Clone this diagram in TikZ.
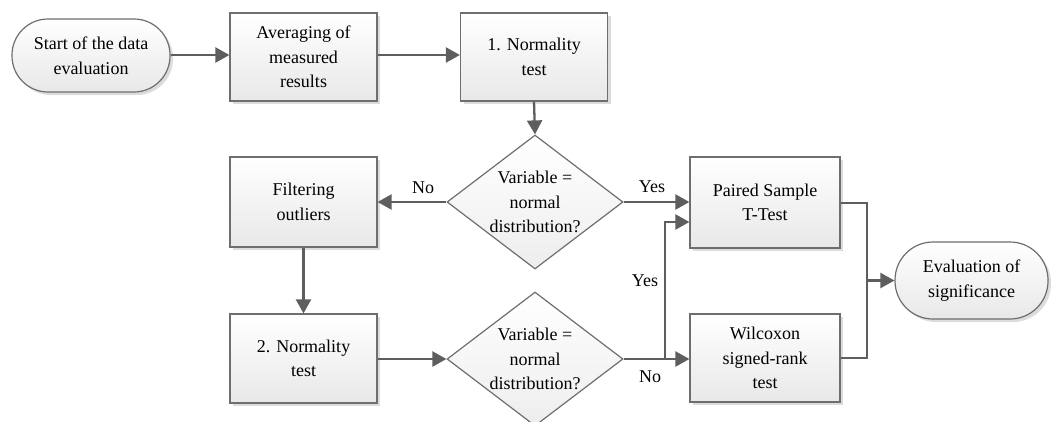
\documentclass[tikz,border=0pt]{standalone}
\usepackage{fontspec}
\setmainfont{Liberation Serif}
\usetikzlibrary{shapes.geometric,arrows.meta,shadows}
\definecolor{linec}{HTML}{5E5E5E}
\definecolor{boxline}{HTML}{6E6E6E}
\newcommand{\fs}{\fontsize{18}{24.5}\selectfont}
\begin{document}
\begin{tikzpicture}[x=1pt,y=-1pt,
  shad/.style={drop shadow={shadow xshift=3pt,shadow yshift=-3pt,fill=black!30,opacity=.45}},
  box/.style={draw=boxline,line width=1.2pt,top color=white,bottom color=black!9,
    minimum width=147pt,minimum height=88pt,inner sep=2pt,align=center,font=\fs,shad},
  term/.style={box,rounded corners=36pt,minimum width=158pt,minimum height=73pt},
  dia/.style={draw=boxline,line width=1.2pt,top color=white,bottom color=black!7,
    shape=diamond,minimum width=176pt,minimum height=134pt,inner sep=0pt},
  txt/.style={align=center,font=\fs,inner sep=0pt},
  lab/.style={font=\fs,inner sep=0pt},
  conn/.style={draw=linec,line width=2.3pt},
  arr/.style={conn,-{Triangle[length=14pt,width=15pt]}}
]
\useasboundingbox (0,0) rectangle (1051,421);

\node[term] (start) at (91,55.5) {Start of the data\\evaluation};
\node[box] (avg) at (303.5,57) {Averaging of\\measured\\results};
\node[box] (n1) at (534,57) {1. Normality\\test};
\node[dia] (d1) at (535,202) {};
\node[txt] (d1t) at (d1) {Variable =\\normal\\distribution?};
\node[box,minimum height=90pt] (filt) at (303.5,202) {Filtering\\outliers};
\node[box,minimum height=89pt] (n2) at (303.5,358.5) {2. Normality\\test};
\node[dia] (d2) at (535,359) {};
\node[txt] (d2t) at (d2) {Variable =\\normal\\distribution?};
\node[box,minimum width=150pt,minimum height=91pt] (paired) at (765,202.5) {Paired Sample\\T-Test};
\node[box,minimum width=150pt,minimum height=88pt] (wil) at (765,358) {Wilcoxon\\signed-rank\\test};
\node[term,minimum width=153pt,minimum height=77pt,rounded corners=38pt] (eval) at (971.5,280.5) {Evaluation of\\significance};

\coordinate (j) at (665,359);
\coordinate (jt) at (665,222);
\coordinate (r1) at (867,203);
\coordinate (r2) at (867,358);
\coordinate (rm) at (867,280.5);

\draw[arr] (start.east |- 0,55) -- (avg.west |- 0,55);
\draw[arr] (avg.east |- 0,55) -- (n1.west |- 0,55);
\draw[arr] (n1.south) -- (d1.north);
\draw[arr] (d1.west) -- (filt.east |- d1.west);
\draw[arr] (d1.east) -- (paired.west |- d1.east);
\draw[arr] (filt.south) -- (n2.north);
\draw[arr] (n2.east |- d2.west) -- (d2.west);
\draw[arr] (d2.east) -- (wil.west |- d2.east);
\draw[arr] (j) -- (jt) -- (paired.west |- jt);
\draw[conn] (paired.east |- r1) -- (r1) -- (r2) -- (wil.east |- r2);
\draw[arr] (rm) -- (eval.west);

\node[lab] (no1) at (423,188) {No};
\node[lab] (yes1) at (652,187) {Yes};
\node[lab] (yes2) at (645,281) {Yes};
\node[lab] (no2) at (650,377) {No};
\end{tikzpicture}
\end{document}
